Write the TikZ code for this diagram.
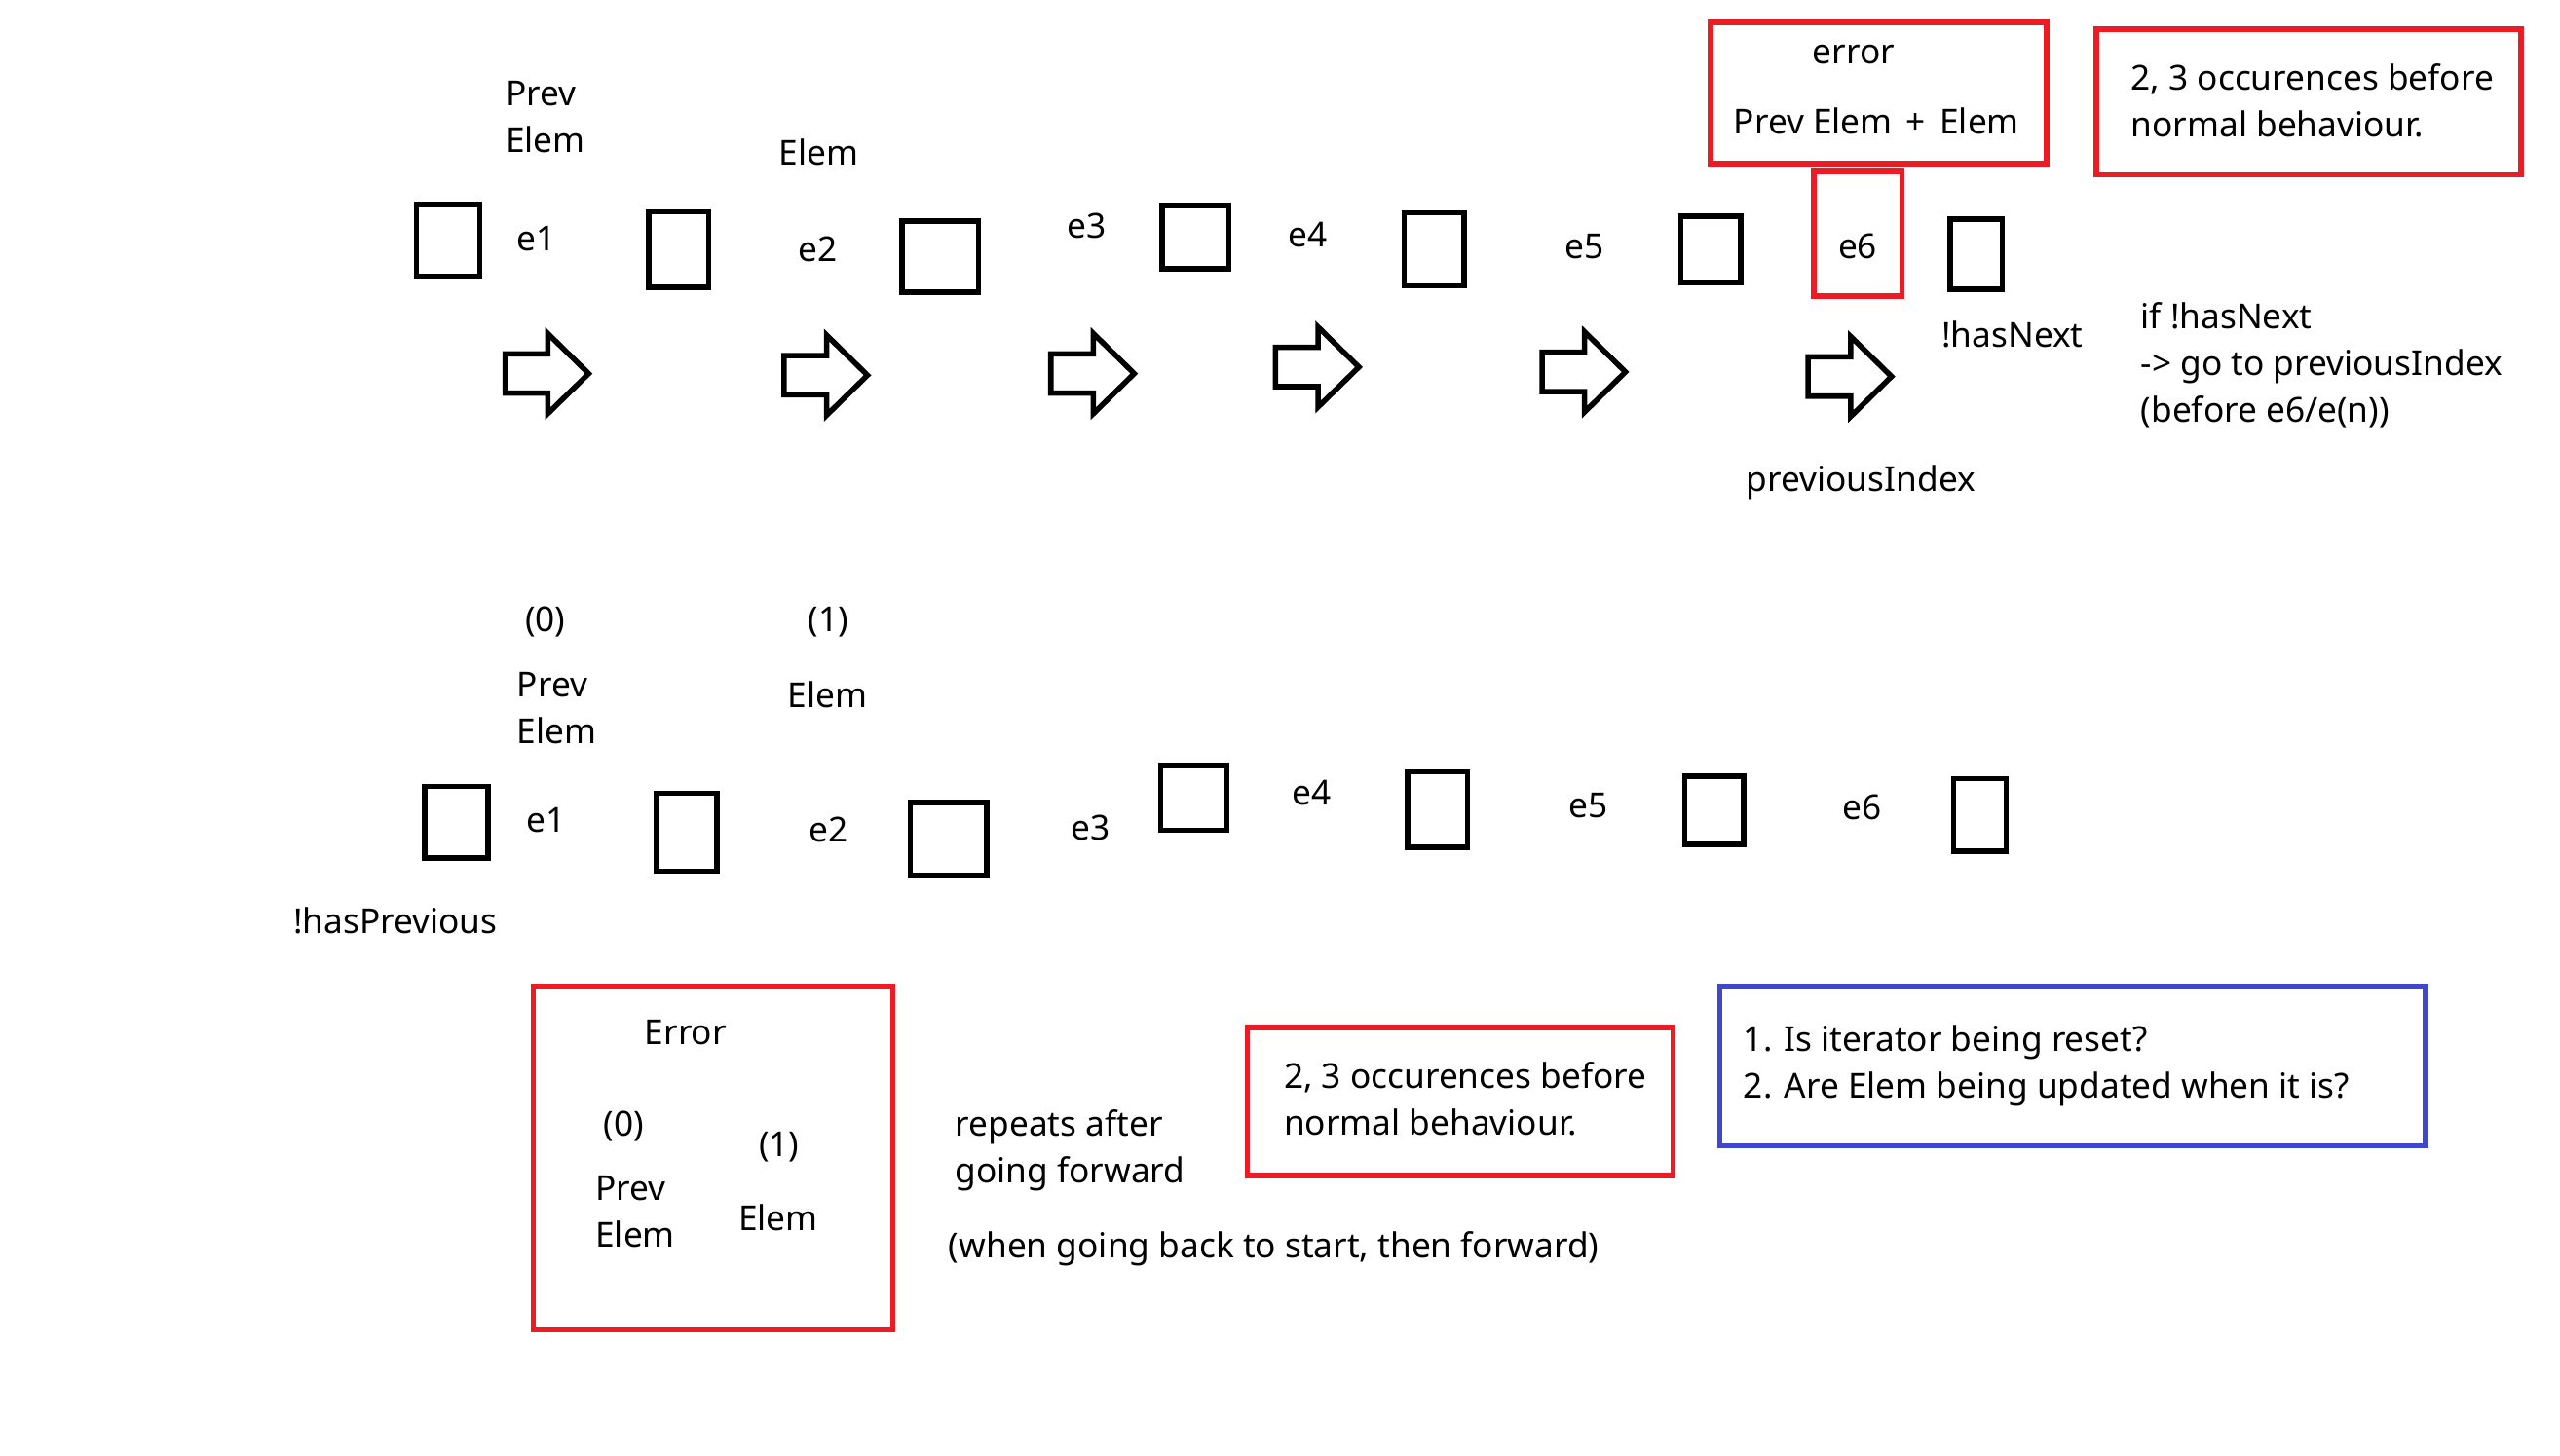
\documentclass[tikz,border=0pt]{standalone}
\usepackage{fontspec}
\setmainfont{Noto Sans}
\definecolor{pred}{RGB}{237,28,36}
\definecolor{pblue}{RGB}{63,72,204}
\tikzset{
  txt/.style={font=\fontsize{21}{28.5}\selectfont, inner sep=0pt, align=left, execute at begin node=\strut},
  ebox/.style={draw=black, line width=3.3pt, inner sep=0pt},
  rbox/.style={draw=pred, line width=3.3pt, inner sep=0pt},
  bbox/.style={draw=pblue, line width=3.3pt, inner sep=0pt},
  blockarrow/.pic={\draw[line width=3.3pt, line join=miter] (0,-12) -- (26,-12) -- (26,-24.5) -- (51,0) -- (26,24.5) -- (26,12) -- (0,12) -- cycle;}
}
\begin{document}
\begin{tikzpicture}[x=1pt,y=-1pt]
\useasboundingbox (0,-1.5) rectangle (1565.5,888.5);
% ---------- top row boxes ----------
\node[ebox, minimum width=38.7, minimum height=43.7] (t1) at (274,145.5) {};
\node[ebox, minimum width=36.7, minimum height=46.2] (t2) at (415,151.25) {};
\node[ebox, minimum width=46.7, minimum height=43.7] (t3) at (575,155.5) {};
\node[ebox, minimum width=40.7, minimum height=38.7] (t4) at (731,143.5) {};
\node[ebox, minimum width=36.7, minimum height=44.7] (t5) at (877,151) {};
\node[ebox, minimum width=36.7, minimum height=40.7] (t6) at (1046.3,151.2) {};
\node[ebox, minimum width=31.7, minimum height=42.7] (t7) at (1208.5,154) {};
% arrows
\pic (a1) at (309,227) {blockarrow};
\pic (a2) at (479.5,228) {blockarrow};
\pic (a3) at (642.6,227) {blockarrow};
\pic (a4) at (780,223) {blockarrow};
\pic (a5) at (943,226) {blockarrow};
\pic (a6) at (1105.7,228.8) {blockarrow};
% top labels
\node[txt, anchor=west] (tpe) at (309,74.2) {Prev\\\strut Elem};
\node[txt] (tel) at (500.5,94) {Elem};
\node[txt] (te1) at (328,146.4) {e1};
\node[txt] (te2) at (500,152.6) {e2};
\node[txt] (te3) at (664.5,138.5) {e3};
\node[txt] (te4) at (800,143.6) {e4};
\node[txt] (te5) at (968.7,150.7) {e5};
\node[txt] (te6) at (1136,151) {e6};
% red boxes top
\node[rbox, minimum width=205.5, minimum height=86.6] (r1) at (1148.7,55.35) {};
\node[rbox, minimum width=54.1, minimum height=76.1] (re6) at (1136.1,141.5) {};
\node[rbox, minimum width=259.8, minimum height=89.1] (r2) at (1411.85,60.8) {};
\node[txt] (rerr) at (1133.5,31.8) {error};
\node[txt] (rpe) at (1147.5,74.7) {Prev Elem\hspace{3pt} + \hspace{3pt}Elem};
\node[txt, anchor=west] (r2t) at (1303,64) {2, 3 occurences before\\\strut normal behaviour.};
\node[txt] (hn) at (1230.7,205.2) {!hasNext};
\node[txt, anchor=west] (ifhn) at (1309,224.4) {if !hasNext\\\strut -> go to previousIndex\\\strut (before e6/e(n))};
\node[txt] (pidx) at (1138,293.1) {previousIndex};
% ---------- bottom row ----------
\node[txt] (b0) at (333.4,379.3) {(0)};
\node[txt] (b1l) at (506.5,379.3) {(1)};
\node[txt, anchor=west] (bpe) at (316,435.6) {Prev\\\strut Elem};
\node[txt] (bel) at (506,425.3) {Elem};
\node[ebox, minimum width=38.7, minimum height=43.7] (b1) at (279,501.5) {};
\node[ebox, minimum width=36.7, minimum height=47.7] (b2) at (420,507.5) {};
\node[ebox, minimum width=46.7, minimum height=44.9] (b3) at (580,511.7) {};
\node[ebox, minimum width=40.7, minimum height=39.7] (b4) at (730,486.5) {};
\node[ebox, minimum width=36.7, minimum height=46.2] (b5) at (879,493.75) {};
\node[ebox, minimum width=36.2, minimum height=41.7] (b6) at (1048.25,494.2) {};
\node[ebox, minimum width=32.2, minimum height=44.4] (b7) at (1210.75,496.85) {};
\node[txt] (be1) at (334,502) {e1};
\node[txt] (be2) at (506.5,508) {e2};
\node[txt] (be3) at (666.7,506.3) {e3};
\node[txt] (be4) at (802,485.1) {e4};
\node[txt] (be5) at (971.4,493.1) {e5};
\node[txt] (be6) at (1138.6,494) {e6};
\node[txt] (hp) at (241.8,563.9) {!hasPrevious};
% ---------- bottom notes ----------
\node[rbox, minimum width=219.9, minimum height=210.2] (r3) at (436,706.75) {};
\node[txt] (err) at (419.3,631.7) {Error};
\node[txt] (e0) at (381.4,687.9) {(0)};
\node[txt] (e1l) at (476.4,699.9) {(1)};
\node[txt, anchor=west] (epe) at (364,743.7) {Prev\\\strut Elem};
\node[txt] (eel) at (476,745.3) {Elem};
\node[txt, anchor=west] (rep) at (584,703.8) {repeats after\\\strut going forward};
\node[txt, anchor=west] (when) at (580,762.3) {(when going back to start, then forward)};
\node[rbox, minimum width=260.4, minimum height=90.3] (r4) at (892.85,672.2) {};
\node[txt, anchor=west] (r4t) at (785,674.9) {2, 3 occurences before\\\strut normal behaviour.};
\node[bbox, minimum width=431.7, minimum height=97.7] (bl) at (1267.5,650.5) {};
\node[txt, anchor=west] (blt) at (1066,651.9) {1. Is iterator being reset?\\\strut 2. Are Elem being updated when it is?};
\end{tikzpicture}
\end{document}
